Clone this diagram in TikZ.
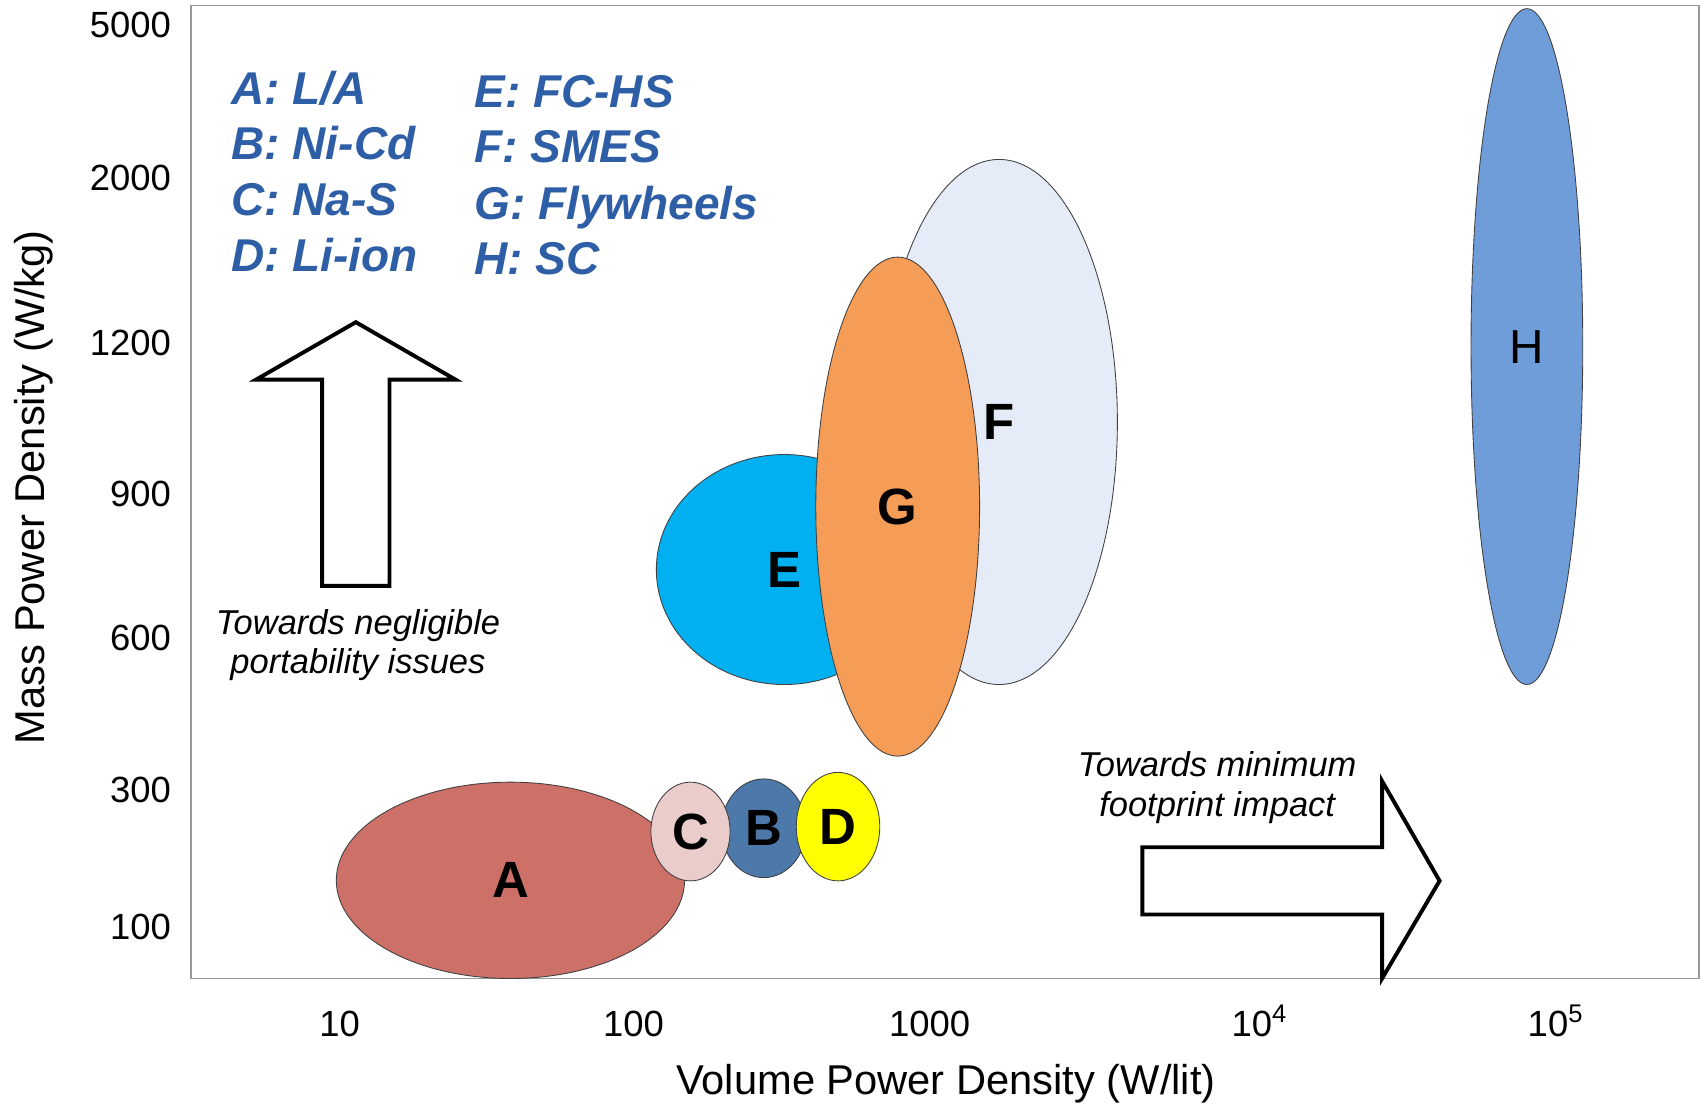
\documentclass[tikz,border=0pt]{standalone}
\usepackage{fontspec}
\setmainfont{Liberation Sans}
\usetikzlibrary{shapes.geometric}
\definecolor{legblue}{RGB}{46,94,166}
\definecolor{cA}{RGB}{205,112,104}
\definecolor{cB}{RGB}{76,121,170}
\definecolor{cC}{RGB}{234,205,203}
\definecolor{cD}{RGB}{255,255,0}
\definecolor{cE}{RGB}{0,176,240}
\definecolor{cF}{RGB}{230,236,247}
\definecolor{cG}{RGB}{245,157,86}
\definecolor{cH}{RGB}{111,157,217}
\begin{document}
\begin{tikzpicture}[x=0.5pt,y=-0.5pt,
  blob/.style={ellipse, draw=black!75, line width=0.4pt, inner sep=0pt,
    font=\fontsize{23.5}{26}\selectfont\bfseries},
  tick/.style={font=\fontsize{16.8}{19}\selectfont, inner sep=0pt},
  axtitle/.style={font=\fontsize{19.2}{22}\selectfont, inner sep=0pt},
  leg/.style={font=\fontsize{21.2}{25}\selectfont\bfseries\itshape, text=legblue, anchor=base west, inner sep=0pt},
  note/.style={font=\fontsize{15.9}{18}\selectfont\itshape, anchor=base, inner sep=0pt},
  blockarrow/.style={draw=black, line width=1.8pt, fill=white, line join=miter}]
\useasboundingbox (0,0) rectangle (1568,1020);
% frame
\draw[black!40, line width=0.7pt] (176,5) rectangle (1566,902);
% y ticks
\node[tick, anchor=base east] (y5000) at (158,35) {5000};
\node[tick, anchor=base east] (y2000) at (158,176) {2000};
\node[tick, anchor=base east] (y1200) at (158,328) {1200};
\node[tick, anchor=base east] (y900) at (158,467) {900};
\node[tick, anchor=base east] (y600) at (158,600) {600};
\node[tick, anchor=base east] (y300) at (158,740) {300};
\node[tick, anchor=base east] (y100) at (158,866) {100};
% x ticks
\node[tick, anchor=base] (x10) at (313,955) {10};
\node[tick, anchor=base] (x100) at (584,955) {100};
\node[tick, anchor=base] (x1000) at (857,955) {1000};
\node[tick, anchor=base] (x1e4) at (1161,955) {10\textsuperscript{4}};
\node[tick, anchor=base] (x1e5) at (1434,955) {10\textsuperscript{5}};
% axis titles
\node[axtitle, anchor=base] (xtitle) at (872,1009) {Volume Power Density (W/lit)};
\node[axtitle, anchor=base, rotate=90] (ytitle) at (41,449) {Mass Power Density (W/kg)};
% legend
\node[leg] (legA) at (213,96) {A: L/A};
\node[leg] (legB) at (213,147) {B: Ni-Cd};
\node[leg] (legC) at (213,199) {C: Na-S};
\node[leg] (legD) at (213,250) {D: Li-ion};
\node[leg] (legE) at (437,99) {E: FC-HS};
\node[leg] (legF) at (437,150) {F: SMES};
\node[leg] (legG) at (437,202) {G: Flywheels};
\node[leg] (legH) at (437,253) {H: SC};
% block arrows
\draw[blockarrow] (297,540) -- (297,350) -- (236,350) -- (328,297) -- (420,350) -- (359,350) -- (359,540) -- cycle;
\node[note] (noteUp1) at (330,585) {Towards negligible};
\node[note] (noteUp2) at (330,621) {portability issues};
\draw[blockarrow] (1053,781) -- (1274,781) -- (1274,720) -- (1327,812) -- (1274,902) -- (1274,843) -- (1053,843) -- cycle;
\node[note] (noteRt1) at (1122,716) {Towards minimum};
\node[note] (noteRt2) at (1122,753) {footprint impact};
% technology regions
\node[blob, fill=cA, minimum width=160.5pt, minimum height=90.5pt] (A) at (470.5,811.5) {A};
\node[blob, fill=cB, minimum width=39pt, minimum height=45.5pt] (B) at (704,763.5) {B};
\node[blob, fill=cC, minimum width=36.5pt, minimum height=45.5pt] (C) at (636.5,766.5) {C};
\node[blob, fill=cD, minimum width=38.5pt, minimum height=50pt] (D) at (772.5,762) {D};
\node[blob, fill=cF, minimum width=109pt, minimum height=242pt] (F) at (921,389) {F};
\node[blob, fill=cE, minimum width=118pt, minimum height=106pt] (E) at (723,525) {E};
\node[blob, fill=cG, minimum width=75.5pt, minimum height=230pt] (G) at (827.5,467) {G};
\node[blob, fill=cH, minimum width=51.5pt, minimum height=311.5pt, font=\fontsize{22}{26}\selectfont] (H) at (1407.5,319.5) {H};
\end{tikzpicture}
\end{document}
